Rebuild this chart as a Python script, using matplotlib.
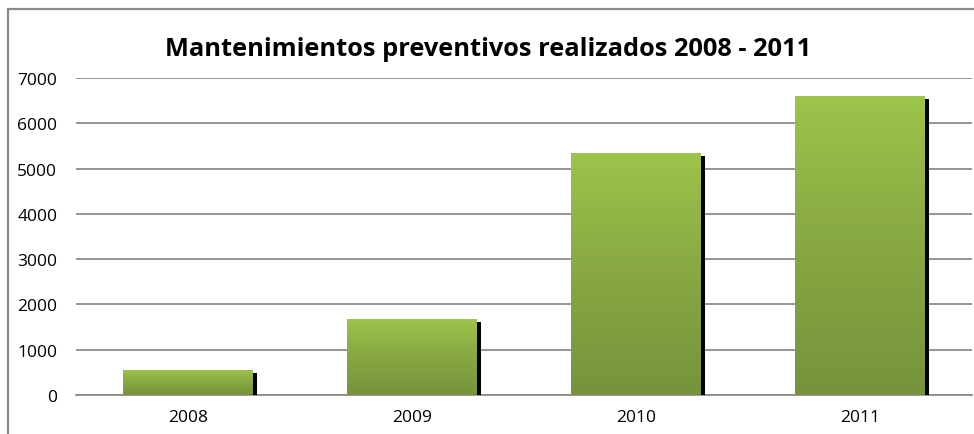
import numpy as np
import matplotlib
matplotlib.use("Agg")
import matplotlib.pyplot as plt
import matplotlib.transforms as mtransforms
from matplotlib.colors import LinearSegmentedColormap
from matplotlib.lines import Line2D

years = ["2008", "2009", "2010", "2011"]
values = [560, 1680, 5350, 6600]
yticks = [0, 1000, 2000, 3000, 4000, 5000, 6000, 7000]
title = "Mantenimientos preventivos realizados 2008 - 2011"

W, H, DPI = 974, 435, 100
fig = plt.figure(figsize=(W / DPI, H / DPI), dpi=DPI)
fig.patch.set_facecolor("white")

ax = fig.add_axes([76 / W, 1 - 396 / H, (972 - 76) / W, (396 - 79) / H])
ax.set_facecolor("none")
x = np.arange(len(years))
width = 0.576

# shadow
shadow_tr = mtransforms.offset_copy(ax.transData, fig=fig, x=4, y=-3, units="dots")
ax.bar(x, values, width, color="black", transform=shadow_tr, zorder=2, linewidth=0)

# main bars (geometry), filled with gradient
bars = ax.bar(x, values, width, color="none", linewidth=0, zorder=3)
cmap = LinearSegmentedColormap.from_list("g", ["#76933C", "#87A842", "#9DC44B"])
grad = np.linspace(0, 1, 256).reshape(-1, 1)
for b in bars:
    x0, y0 = b.get_xy()
    im = ax.imshow(grad, extent=(x0, x0 + b.get_width(), y0, y0 + b.get_height()),
                   origin="lower", aspect="auto", cmap=cmap, zorder=3, interpolation="bilinear")
    im.set_clip_path(b)

ax.set_xlim(-0.5, len(years) - 0.5)
ax.set_ylim(0, 7000)
ax.set_yticks(yticks)
ax.set_yticklabels([str(v) for v in yticks])
ax.set_xticks(x)
ax.set_xticklabels(years)
ax.grid(axis="y", color="#8c8c8c", linewidth=1.3, zorder=1)
ax.set_axisbelow(True)
for s in ["top", "right", "left"]:
    ax.spines[s].set_visible(False)
ax.spines["bottom"].set_color("#8c8c8c")
ax.spines["bottom"].set_linewidth(1.3)
ax.spines["bottom"].set_zorder(1)
ax.tick_params(axis="both", length=0, labelsize=12.5, labelcolor="#000000")
ax.tick_params(axis="y", pad=13.5)
ax.tick_params(axis="x", pad=10)
for lab in ax.get_xticklabels() + ax.get_yticklabels():
    lab.set_family(["Open Sans", "DejaVu Sans"])

t = fig.text(488 / W, 1 - 49 / H, title, ha="center", va="center",
             fontsize=16, fontweight="bold", family=["Open Sans", "DejaVu Sans"])
fig.canvas.draw()
bb = t.get_window_extent()
t.set_fontsize(16 * 647 / bb.width)

# outer frame lines
fig.add_artist(Line2D([7.5 / W, 7.5 / W], [0, 1 - 9.5 / H], transform=fig.transFigure,
                      color="#8a8a8a", linewidth=1.6))
fig.add_artist(Line2D([7.5 / W, 1], [1 - 9.5 / H, 1 - 9.5 / H], transform=fig.transFigure,
                      color="#8a8a8a", linewidth=1.6))

fig.savefig("out.png", dpi=DPI)
